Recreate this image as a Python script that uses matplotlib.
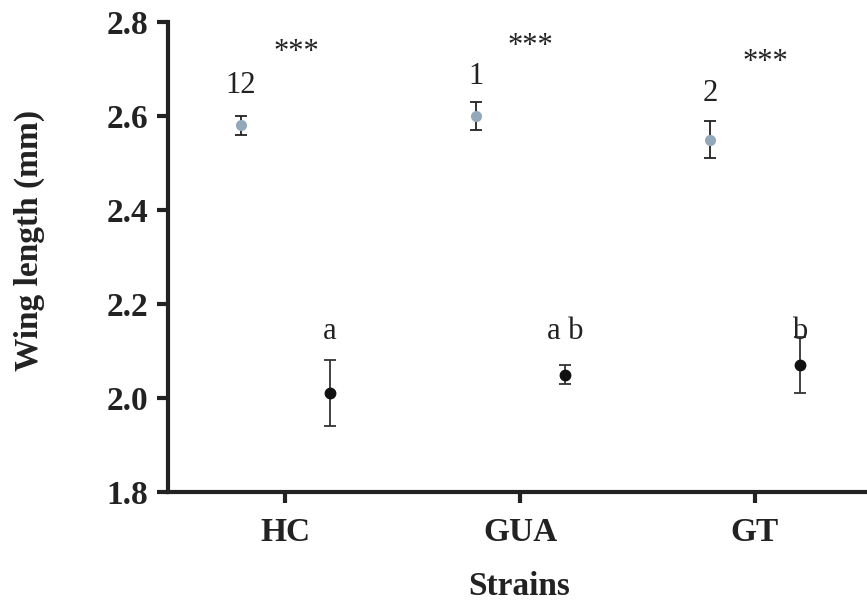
import matplotlib.pyplot as plt
#
#   Data
#
strains = ['HC', 'GUA', 'GT']
grey_mean = [2.58, 2.60, 2.55]
grey_err = [0.02, 0.03, 0.04]
black_mean = [2.01, 2.05, 2.07]
black_err = [0.07, 0.02, 0.06]
grey_labels = ['12', '1', '2']
grey_label_y = [2.665, 2.685, 2.648]
star_y = [2.735, 2.748, 2.714]
black_labels = ['a', 'a b', 'b']
black_label_y = [2.142, 2.142, 2.142]
#
plt.rcParams['font.family'] = ['Liberation Serif', 'DejaVu Serif']
fig = plt.figure(figsize=(8.67, 6.05), dpi=100)
ax = fig.add_axes([168/867, 113/605, 702/867, 470/605])

pos = [1, 2, 3]
off = 0.19
xg = [p - off for p in pos]
xb = [p + off for p in pos]

ax.errorbar(xg, grey_mean, yerr=grey_err, fmt='o', color='#94a8bb',
            markersize=7, ecolor='#222222', elinewidth=1.3, capsize=4.5,
            capthick=1.3, zorder=3)
ax.errorbar(xb, black_mean, yerr=black_err, fmt='o', color='#111111',
            markersize=7.5, ecolor='#333333', elinewidth=1.3, capsize=4.5,
            capthick=1.3, zorder=3)

for i in range(3):
    ax.text(xg[i], grey_label_y[i], grey_labels[i], ha='center', va='center',
            fontsize=22, color='#222222')
    ax.text(pos[i] + 0.045, star_y[i], '***', ha='center', va='center',
            fontsize=22, color='#222222')
    ax.text(xb[i], black_label_y[i], black_labels[i], ha='center',
            va='center', fontsize=22, color='#222222')

ax.set_xlim(0.5, 3.49)
ax.set_ylim(1.8, 2.8)
ax.set_yticks([1.8, 2.0, 2.2, 2.4, 2.6, 2.8])
ax.set_yticklabels(['1.8', '2.0', '2.2', '2.4', '2.6', '2.8'])
ax.set_xticks(pos)
ax.set_xticklabels(strains)
for lab in ax.get_xticklabels() + ax.get_yticklabels():
    lab.set_fontweight('bold')
    lab.set_fontsize(24)
    lab.set_color('#222222')

ax.spines['top'].set_visible(False)
ax.spines['right'].set_visible(False)
ax.spines['left'].set_linewidth(3)
ax.spines['bottom'].set_linewidth(3)
ax.spines['left'].set_color('#222222')
ax.spines['bottom'].set_color('#222222')
ax.tick_params(axis='both', length=8, width=3, color='#222222', pad=6)
ax.tick_params(axis='x', pad=10)

ax.set_ylabel('Wing length (mm)', fontsize=24, fontweight='bold',
              color='#222222')
ax.set_xlabel('Strains', fontsize=24, fontweight='bold', color='#222222')
ax.yaxis.set_label_coords(-0.197, 0.535)
ax.yaxis.label.set_va('center')
ax.xaxis.set_label_coords(0.5, -0.202)
ax.xaxis.label.set_va('center')

fig.savefig('out.png', dpi=100)
